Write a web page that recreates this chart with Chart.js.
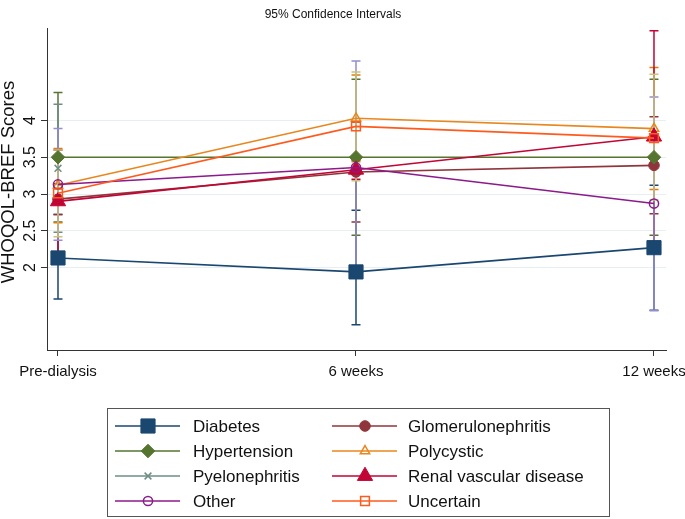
<!DOCTYPE html>
<html lang="en">
<head>
<meta charset="UTF-8">
<title>WHOQOL-BREF Scores</title>
<script src="https://cdn.jsdelivr.net/npm/chart.js"></script>
<style>
  html, body { margin: 0; padding: 0; background: #fff; }
</style>
</head>
<body>
<canvas id="chart" width="685" height="519"></canvas>
<script>
// time points and y ticks
const timeLabels = ['Pre-dialysis', '6 weeks', '12 weeks'];
const yTicks = [2, 2.5, 3, 3.5, 4];
const yTitle = 'WHOQOL-BREF Scores';

// group names, in plot order
const groupNames = ['Diabetes', 'Glomerulonephritis', 'Hypertension', 'Polycystic',
                    'Pyelonephritis', 'Renal vascular disease', 'Other', 'Uncertain'];

// mean scores
const diabetesMean     = [2.13, 1.94, 2.27];
const glomeruloMean    = [2.93, 3.30, 3.39];
const hypertensionMean = [3.50, 3.50, 3.50];
const polycysticMean   = [3.12, 4.03, 3.89];
const pyeloMean        = [3.35, null, null];
const renalMean        = [2.90, 3.33, 3.78];
const otherMean        = [3.13, 3.36, 2.87];
const uncertainMean    = [3.01, 3.92, 3.76];

// 95% CI lower bounds
const diabetesLow     = [1.57, 1.22, 1.42];
const glomeruloLow    = [2.72, 2.62, 2.73];
const hypertensionLow = [2.62, 2.44, 2.44];
const polycysticLow   = [2.61, 3.44, 3.06];
const pyeloLow        = [2.48, null, null];
const renalLow        = [2.20, 3.20, 2.34];
const otherLow        = [2.37, 1.91, 1.41];
const uncertainLow    = [2.42, 3.18, 2.92];

// 95% CI upper bounds
const diabetesHigh     = [2.72, 2.78, 3.12];
const glomeruloHigh    = [3.14, 3.98, 4.05];
const hypertensionHigh = [4.38, 4.56, 4.56];
const polycysticHigh   = [3.62, 4.62, 4.72];
const pyeloHigh        = [4.22, null, null];
const renalHigh        = [3.60, 3.46, 5.22];
const otherHigh        = [3.89, 4.81, 4.32];
const uncertainHigh    = [3.60, 4.66, 4.63];

const means = [diabetesMean, glomeruloMean, hypertensionMean, polycysticMean,
               pyeloMean, renalMean, otherMean, uncertainMean];
const lows  = [diabetesLow, glomeruloLow, hypertensionLow, polycysticLow,
               pyeloLow, renalLow, otherLow, uncertainLow];
const highs = [diabetesHigh, glomeruloHigh, hypertensionHigh, polycysticHigh,
               pyeloHigh, renalHigh, otherHigh, uncertainHigh];

// styles
const lineColors = ['#1a476f', '#90353b', '#55752f', '#e8871e', '#6e8e84', '#c10534', '#8b1a8b', '#ff5a1c'];
const ciColors   = ['#1a476f', '#90353b', '#55752f', '#e37e00', '#6e8e84', '#c10534', '#938dd2', '#cac27e'];
const markers    = ['rect', 'circle', 'rectRot', 'triangle', 'crossRot', 'triangle', 'circle', 'rect'];
const markerSize = [10, 5.3, 6.8, 5.4, 4.8, 8.8, 4.6, 6.2];
const hollow     = [false, false, false, true, false, false, true, true];

const textColor = '#111';
Chart.defaults.font.family = "'Liberation Sans', Arial, sans-serif";
Chart.defaults.color = textColor;

const datasets = groupNames.map((name, i) => ({
    label: name,
    data: means[i].map((v, j) => ({ x: j, y: v })),
    borderColor: lineColors[i],
    borderWidth: 1.6,
    pointStyle: markers[i],
    pointRadius: markerSize[i],
    pointBorderColor: lineColors[i],
    pointBackgroundColor: hollow[i] ? 'rgba(0,0,0,0)' : lineColors[i],
    pointBorderWidth: hollow[i] || markers[i] === 'crossRot' ? 1.5 : 1,
    tension: 0,
    order: groupNames.length - i
}));

// error bars, drawn under the lines
const ciPlugin = {
    id: 'ciBars',
    beforeDatasetsDraw(chart) {
        const ctx = chart.ctx;
        const xs = chart.scales.x, ys = chart.scales.y;
        ctx.save();
        ctx.lineWidth = 1.5;
        groupNames.forEach((n, i) => {
            ctx.strokeStyle = ciColors[i];
            lows[i].forEach((lo, j) => {
                const hi = highs[i][j];
                if (lo === null || hi === null) return;
                const x = xs.getPixelForValue(j);
                const y1 = ys.getPixelForValue(lo), y2 = ys.getPixelForValue(hi);
                ctx.beginPath();
                ctx.moveTo(x, y1); ctx.lineTo(x, y2);
                ctx.moveTo(x - 4.5, y1); ctx.lineTo(x + 4.5, y1);
                ctx.moveTo(x - 4.5, y2); ctx.lineTo(x + 4.5, y2);
                ctx.stroke();
            });
        });
        ctx.restore();
    }
};

// rotated y tick labels, y title and the boxed two-column legend
const extrasPlugin = {
    id: 'extras',
    afterDraw(chart) {
        const ctx = chart.ctx;
        const ys = chart.scales.y;
        ctx.save();
        ctx.fillStyle = textColor;
        ctx.font = "16px 'Liberation Sans', Arial, sans-serif";
        ctx.textAlign = 'center';
        ctx.textBaseline = 'middle';
        yTicks.forEach(v => {
            ctx.save();
            ctx.translate(31, ys.getPixelForValue(v));
            ctx.rotate(-Math.PI / 2);
            ctx.fillText(String(v), 0, 0);
            ctx.restore();
        });

        ctx.save();
        ctx.font = "18.5px 'Liberation Sans', Arial, sans-serif";
        ctx.translate(9, 182);
        ctx.rotate(-Math.PI / 2);
        ctx.fillText(yTitle, 0, 0);
        ctx.restore();

        // legend box
        ctx.strokeStyle = '#555';
        ctx.lineWidth = 1;
        ctx.strokeRect(107.5, 408.5, 502, 108);
        ctx.font = "17px 'Liberation Sans', Arial, sans-serif";
        ctx.textAlign = 'left';
        groupNames.forEach((name, i) => {
            const col = i % 2, row = Math.floor(i / 2);
            const x0 = col === 0 ? 115 : 332;
            const y = 426 + row * 25;
            ctx.strokeStyle = lineColors[i];
            ctx.lineWidth = 1.6;
            ctx.beginPath();
            ctx.moveTo(x0, y); ctx.lineTo(x0 + 65, y);
            ctx.stroke();
            ctx.fillStyle = hollow[i] ? 'rgba(0,0,0,0)' : lineColors[i];
            ctx.lineWidth = datasets[i].pointBorderWidth;
            Chart.helpers.drawPoint(ctx, {
                pointStyle: markers[i], radius: markerSize[i], rotation: 0,
                borderWidth: datasets[i].pointBorderWidth
            }, x0 + 33, y);
            ctx.fillStyle = textColor;
            ctx.fillText(name, col === 0 ? 193 : 408, y + 1);
        });
        ctx.restore();
    }
};

new Chart(document.getElementById('chart'), {
    type: 'line',
    data: { datasets: datasets },
    options: {
        responsive: false,
        animation: false,
        layout: { padding: { left: 0, right: 19, top: 0, bottom: 129 } },
        plugins: {
            legend: { display: false },
            tooltip: { enabled: false },
            title: {
                display: true,
                text: '95% Confidence Intervals',
                font: { size: 12, weight: 'normal' },
                color: textColor,
                padding: { top: 7, bottom: 6.6 }
            }
        },
        scales: {
            x: {
                type: 'linear',
                min: -0.0369,
                max: 2.0403,
                afterBuildTicks: s => { s.ticks = timeLabels.map((t, i) => ({ value: i })); },
                afterFit: s => { s.height = 40; s.paddingLeft = 0; s.paddingRight = 0; },
                ticks: {
                    callback: v => timeLabels[v],
                    font: { size: 15 },
                    color: textColor,
                    padding: 7,
                    maxRotation: 0
                },
                grid: { drawOnChartArea: false, tickLength: 6, tickColor: '#333' },
                border: { color: '#333', width: 1 }
            },
            y: {
                min: 0.8776,
                max: 5.2585,
                afterBuildTicks: s => { s.ticks = yTicks.map(v => ({ value: v })); },
                afterFit: s => { s.width = 47; },
                ticks: { display: false },
                title: { display: false },
                grid: { color: '#e8eff2', tickLength: 6, tickColor: '#333' },
                border: { color: '#333', width: 1 }
            }
        }
    },
    plugins: [ciPlugin, extrasPlugin]
});
</script>
</body>
</html>
